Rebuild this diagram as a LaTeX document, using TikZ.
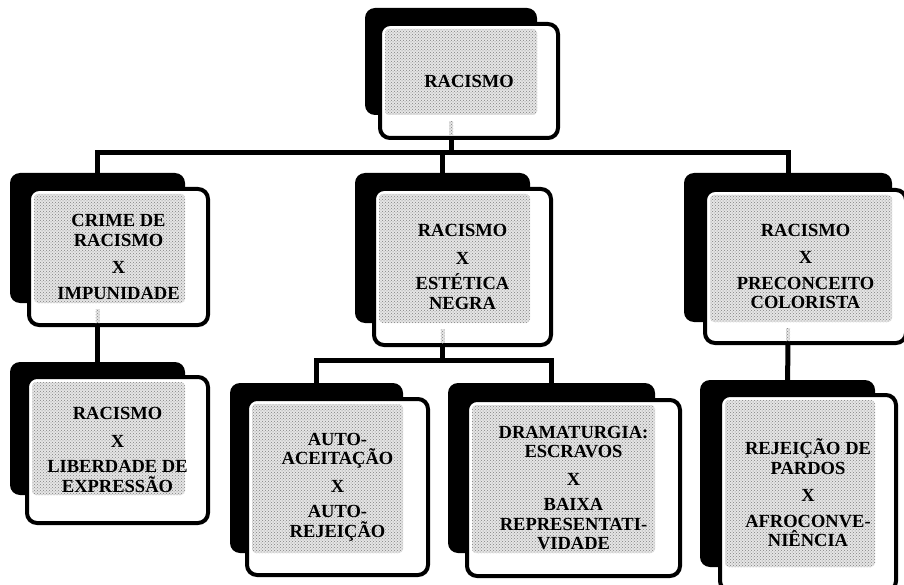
\documentclass[tikz,border=0pt]{standalone}
\usepackage{fontspec}
\setmainfont{Liberation Serif}
\usetikzlibrary{backgrounds,calc,fit,patterns}

\tikzset{
  sombra/.style={fill=black,rounded corners=10pt,inner sep=0pt},
  moldura/.style={draw,line width=4pt,fill=white,rounded corners=10pt,inner sep=0pt},
  pontos/.style={preaction={fill=black!10},pattern=crosshatch dots,pattern color=black!50},
  rotulo/.style={font=\fontsize{18.5}{19.5}\selectfont\bfseries,align=center,inner sep=0pt},
  liga/.style={line width=5pt}
}

% #1 nome, #2 #3 cantos da sombra, #4 #5 cantos da moldura, #6 texto
\newcommand\caixa[6]{%
  \node[sombra,fit={#2 #3}] (#1-s) {};
  \node[moldura,fit={#4 #5}] (#1) {};
  \fill[pontos,rounded corners=4pt] ($#4+(5,5)$) rectangle #3;
  \node[rotulo] (#1-t) at (#1) {#6};
}

\begin{document}
\begin{tikzpicture}[x=1pt,y=-1pt]
  \useasboundingbox (0,0) rectangle (904,585);
  \clip (0,0) rectangle (904,585);

  \caixa{racismo}{(365,8)}{(537,115)}{(380,24)}{(558,138)}{RACISMO}
  \caixa{crime}{(10,173)}{(185,303)}{(29,189)}{(208,325)}{CRIME DE\\RACISMO\\[8pt]X\\[6pt]IMPUNIDADE}
  \caixa{estetica}{(355,173)}{(530,323)}{(374,189)}{(551,345)}{RACISMO\\[8pt]X\\[6pt]ESTÉTICA\\NEGRA}
  \caixa{colorista}{(684,173)}{(892,322)}{(705,190)}{(906,343)}{RACISMO\\[8pt]X\\[6pt]PRECONCEITO\\COLORISTA}
  \caixa{liberdade}{(10,362)}{(185,495)}{(27,377)}{(208,523)}{RACISMO\\[8pt]X\\[6pt]LIBERDADE DE\\EXPRESSÃO}
  \caixa{aceitacao}{(230,383)}{(403,553)}{(247,399)}{(428,575)}{AUTO-\\ACEITAÇÃO\\[8pt]X\\[6pt]AUTO-\\REJEIÇÃO}
  \caixa{dramaturgia}{(448,383)}{(655,553)}{(467,400)}{(680,576)}{DRAMATURGIA:\\ESCRAVOS\\[8pt]X\\[6pt]BAIXA\\REPRESENTATI-\\VIDADE}
  \caixa{pardos}{(700,380)}{(875,567)}{(720,395)}{(896,591)}{REJEIÇÃO DE\\PARDOS\\[8pt]X\\[6pt]AFROCONVE-\\NIÊNCIA}

  % pedacinhos pontilhados na parte branca
  \foreach \n in {racismo,crime,estetica,colorista}
    \fill[pontos] ($(\n-s.south)+(-2,6)$) rectangle ($(\n-s.south |- \n.south)+(2,-4)$);

  \begin{scope}[on background layer]
    \coordinate (barra1) at (0,153);
    \coordinate (barra2) at (0,360);
    \draw[liga] (racismo-s) -- (racismo-s |- barra1);
    \draw[liga] (crime-s) -- (crime-s |- barra1) -- (colorista-s |- barra1) -- (colorista-s);
    \draw[liga] (estetica-s |- barra1) -- (estetica-s);
    \draw[liga] (aceitacao-s) -- (aceitacao-s |- barra2) -- (dramaturgia-s |- barra2) -- (dramaturgia-s);
    \draw[liga] (estetica-s) -- (estetica-s |- barra2);
    \draw[liga] (crime-s) -- (liberdade-s);
    \draw[liga] (colorista-s) -- (pardos-s);
  \end{scope}
\end{tikzpicture}
\end{document}
